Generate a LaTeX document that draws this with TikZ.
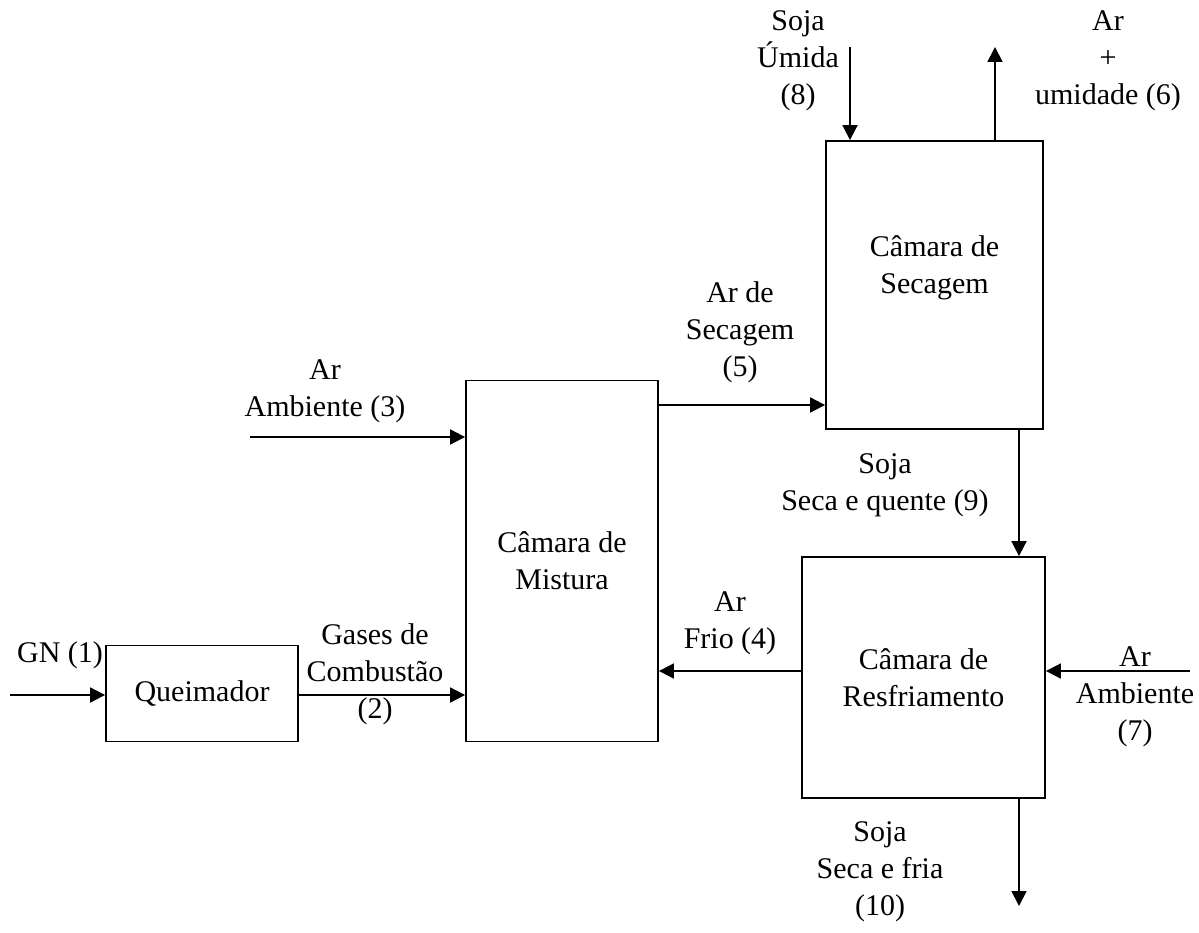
\documentclass[tikz,border=0pt]{standalone}
\usepackage{fontspec}
\setmainfont{Liberation Serif}
\usetikzlibrary{arrows.meta}
\begin{document}
\begin{tikzpicture}[x=1pt,y=-1pt,line width=1.8pt,
  font=\fontsize{30}{37}\selectfont,
  bloco/.style={draw,minimum width=#1,inner sep=0pt,align=center},
  rot/.style={align=center,inner sep=0pt},
  fluxo/.style={-{Triangle[length=15pt,width=15pt]}}]
\useasboundingbox (0,0) rectangle (1199,933);
% blocos
\node[bloco=192pt,minimum height=96pt] (queim) at (202,693.5) {Queimador};
\node[bloco=192pt,minimum height=361pt] (mist) at (562,561) {C\^amara de\\Mistura};
\node[bloco=217pt,minimum height=288pt] (sec) at (934.5,285) {};
\node[rot] (secTxt) at (934.5,268) {C\^amara de\\Secagem};
\node[bloco=243pt,minimum height=241pt] (res) at (923.5,677.5) {C\^amara de\\Resfriamento};
% pontas livres
\coordinate (gn) at (10,695);
\coordinate (amb3) at (250,437);
\coordinate (s8) at (850,47);
\coordinate (a6) at (995,47);
\coordinate (amb7) at (1190,671);
\coordinate (s10) at (1019,906);
% correntes
\draw[fluxo] (gn) -- (gn -| queim.west);
\draw[fluxo] (queim.east |- gn) -- (mist.west |- gn);
\draw[fluxo] (amb3) -- (amb3 -| mist.west);
\draw[fluxo] (mist.east |- 0,405) -- (sec.west |- 0,405);
\draw[fluxo] (s8) -- (s8 |- sec.north);
\draw[fluxo] (a6 |- sec.north) -- (a6);
\draw[fluxo] (s10 |- sec.south) -- (s10 |- res.north);
\draw[fluxo] (res.west |- amb7) -- (mist.east |- amb7);
\draw[fluxo] (amb7) -- (amb7 -| res.east);
\draw[fluxo] (s10 |- res.south) -- (s10);
% rotulos
\node[rot] (l1) at (60,655) {GN (1)};
\node[rot] (l2) at (375,674) {Gases de\\Combust\~ao\\(2)};
\node[rot] (l3) at (325,391) {Ar\\Ambiente (3)};
\node[rot] (l4) at (730,623) {Ar\\Frio (4)};
\node[rot] (l5) at (740,332) {Ar de\\Secagem\\(5)};
\node[rot] (l6) at (1108,61) {Ar\\+\\umidade (6)};
\node[rot] (l7) at (1135,697) {Ar\\Ambiente\\(7)};
\node[rot] (l8) at (798,61) {Soja\\\'Umida\\(8)};
\node[rot] (l9) at (885,485) {Soja\\Seca e quente (9)};
\node[rot] (l10) at (880,872) {Soja\\Seca e fria\\(10)};
\end{tikzpicture}
\end{document}
